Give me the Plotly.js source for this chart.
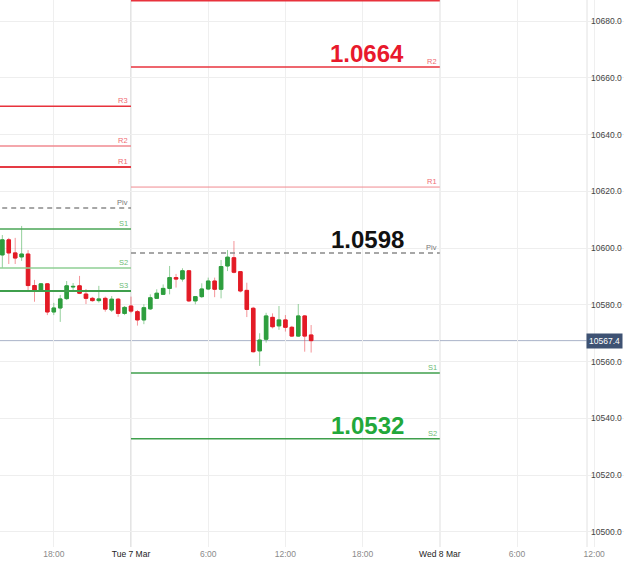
<!DOCTYPE html>
<html>
<head>
<meta charset="utf-8">
<script src="https://cdn.plot.ly/plotly-3.0.1.min.js"></script>
<style>html,body{margin:0;padding:0;background:#fff;}#chart{width:624px;height:561px;}</style>
</head>
<body>
<div id="chart"></div>
<script>
// ---- data ----
const times = [
 '2023-03-06 14:00','2023-03-06 14:30','2023-03-06 15:00','2023-03-06 15:30','2023-03-06 16:00','2023-03-06 16:30',
 '2023-03-06 17:00','2023-03-06 17:30','2023-03-06 18:00','2023-03-06 18:30','2023-03-06 19:00','2023-03-06 19:30',
 '2023-03-06 20:00','2023-03-06 20:30','2023-03-06 21:00','2023-03-06 21:30','2023-03-06 22:00','2023-03-06 22:30',
 '2023-03-06 23:00','2023-03-06 23:30','2023-03-07 00:00','2023-03-07 00:30','2023-03-07 01:00','2023-03-07 01:30',
 '2023-03-07 02:00','2023-03-07 02:30','2023-03-07 03:00','2023-03-07 03:30','2023-03-07 04:00','2023-03-07 04:30',
 '2023-03-07 05:00','2023-03-07 05:30','2023-03-07 06:00','2023-03-07 06:30','2023-03-07 07:00','2023-03-07 07:30',
 '2023-03-07 08:00','2023-03-07 08:30','2023-03-07 09:00','2023-03-07 09:30','2023-03-07 10:00','2023-03-07 10:30',
 '2023-03-07 11:00','2023-03-07 11:30','2023-03-07 12:00','2023-03-07 12:30','2023-03-07 13:00','2023-03-07 13:30',
 '2023-03-07 14:00'];
const openV  = [10597.6,10602.9,10598.3,10596.9,10597.9,10586.8,10585.0,10587.4,10577.5,10578.9,10582.2,10586.3,10586.7,10583.8,10582.3,10581.5,10582.3,10578.2,10582.0,10577.0,10579.6,10577.6,10574.7,10578.6,10582.3,10583.7,10585.8,10589.6,10589.1,10592.0,10581.4,10582.9,10585.6,10588.4,10585.5,10593.7,10596.6,10591.7,10585.1,10578.8,10563.8,10567.9,10575.6,10572.6,10574.7,10572.1,10569.0,10576.1,10569.4];
const highV  = [10604.6,10603.6,10603.6,10607.8,10599.3,10588.8,10587.7,10587.7,10580.7,10583.5,10588.4,10587.7,10590.2,10585.6,10582.8,10586.7,10582.9,10583.1,10582.4,10579.6,10582.9,10578.2,10580.2,10583.7,10585.5,10587.2,10593.7,10590.9,10592.9,10592.3,10583.1,10587.6,10589.6,10589.6,10595.8,10599.3,10602.5,10591.9,10587.8,10579.3,10570.0,10577.2,10577.0,10579.6,10576.4,10572.6,10580.3,10576.4,10572.9];
const lowV   = [10593.0,10594.4,10594.4,10595.5,10585.2,10581.1,10584.7,10576.4,10576.4,10574.0,10581.7,10585.2,10583.8,10580.3,10581.1,10580.8,10577.6,10577.5,10575.8,10576.4,10577.1,10572.7,10573.2,10578.2,10582.1,10583.5,10583.7,10586.1,10588.2,10581.0,10580.2,10582.4,10585.2,10582.7,10582.3,10591.9,10591.1,10584.4,10575.7,10563.2,10558.5,10566.7,10571.7,10571.2,10570.6,10568.7,10568.7,10563.5,10563.2];
const closeV = [10602.9,10598.3,10596.5,10597.9,10586.8,10585.0,10587.4,10577.5,10578.9,10582.1,10586.7,10586.5,10584.1,10582.3,10581.5,10582.1,10578.5,10582.0,10577.0,10579.1,10577.8,10574.7,10579.0,10582.5,10584.1,10585.8,10589.6,10589.1,10592.0,10581.4,10582.9,10585.6,10588.4,10585.5,10593.5,10596.8,10591.5,10584.9,10578.4,10563.5,10567.6,10576.1,10572.3,10574.7,10572.1,10569.0,10576.1,10569.0,10567.4];

// pivot levels per day
const dayStart = ['2023-03-06 00:00','2023-03-07 00:00'];
const dayEnd   = ['2023-03-07 00:00','2023-03-08 00:00'];
const levelNames = ['R3','R2','R1','Piv','S1','S2','S3'];
const levelsMon = [10650.0,10636.0,10628.6,10614.1,10606.7,10593.0,10584.9];
const levelsTue = [10687.1,10663.8,10621.5,10598.3,10556.0,10532.8,null];
const showLabelTue = [false,true,true,true,true,true,false];
const bigLabels = {R2:'1.0664', Piv:'1.0598', S2:'1.0532'};

const xTickVals = ['2023-03-06 18:00','2023-03-07 00:00','2023-03-07 06:00','2023-03-07 12:00','2023-03-07 18:00','2023-03-08 00:00','2023-03-08 06:00','2023-03-08 12:00'];
const xTickText = ['18:00','<span style="color:#222">Tue 7 Mar</span>','6:00','12:00','18:00','<span style="color:#222">Wed 8 Mar</span>','6:00','12:00'];
const yTickVals = [10500,10520,10540,10560,10580,10600,10620,10640,10660,10680];

// ---- styles ----
const styleMon = {
  R3:{c:'#e8323c',w:1.5}, R2:{c:'#f08a90',w:1.5}, R1:{c:'#e53a44',w:2},
  Piv:{c:'#8a8a8a',w:1.5,d:'5px,4px'},
  S1:{c:'#4aa656',w:1.5}, S2:{c:'#8fcf95',w:1.5}, S3:{c:'#3f9f4c',w:2}
};
const styleTue = {
  R3:{c:'#e8323c',w:1.5}, R2:{c:'#e8323c',w:1.5}, R1:{c:'#f08a90',w:1},
  Piv:{c:'#8a8a8a',w:1.5,d:'5px,4px'},
  S1:{c:'#3f9f4c',w:1.5}, S2:{c:'#3f9f4c',w:1.5}, S3:{c:'#3f9f4c',w:1.5}
};
const labelColor = {R:'#ef6b72', P:'#777', S:'#6dbb74'};
const bigColor = {R2:'#e8192c', Piv:'#111', S2:'#22a83a'};
const FONT = 'Liberation Sans, Arial, sans-serif';

const traces = [];
const annotations = [];
[[levelsMon, styleMon, 0],[levelsTue, styleTue, 1]].forEach(([lv, st, d]) => {
  lv.forEach((v, i) => {
    if (v === null) return;
    const n = levelNames[i];
    const s = st[n];
    traces.push({
      type:'scatter', mode:'lines', x:[dayStart[d], dayEnd[d]], y:[v, v],
      line:{color:s.c, width:s.w, dash:s.d || 'solid'}, hoverinfo:'skip', showlegend:false
    });
    if (d === 0 || showLabelTue[i]) {
      annotations.push({
        x: dayEnd[d], y: v, xref:'x', yref:'y', text:n, showarrow:false,
        xanchor:'right', yanchor:'bottom', xshift:-1, yshift:-1,
        font:{family:FONT, size:7.5, color:labelColor[n[0]]}
      });
    }
    if (d === 1 && bigLabels[n]) {
      annotations.push({
        x: '2023-03-07 21:22', y: v, xref:'x', yref:'y', text:'<b>'+bigLabels[n]+'</b>', showarrow:false,
        xanchor:'right', yanchor:'bottom', yshift:-2,
        font:{family:FONT, size:24, color:bigColor[n]}
      });
    }
  });
});

// candle wicks (light) + bodies (solid)
traces.push({
  type:'candlestick', x:times, open:openV, high:highV, low:lowV, close:closeV,
  increasing:{line:{color:'rgba(60,170,75,0.55)', width:1}, fillcolor:'rgba(60,170,75,0.55)'},
  decreasing:{line:{color:'rgba(235,60,70,0.55)', width:1}, fillcolor:'rgba(235,60,70,0.55)'},
  hoverinfo:'skip', showlegend:false
});
traces.push({
  type:'candlestick', x:times, open:openV, close:closeV,
  high:openV.map((o,i)=>Math.max(o,closeV[i])), low:openV.map((o,i)=>Math.min(o,closeV[i])),
  increasing:{line:{color:'#2e9e3e', width:1}, fillcolor:'#2e9e3e'},
  decreasing:{line:{color:'#e31b26', width:1}, fillcolor:'#e31b26'},
  hoverinfo:'skip', showlegend:false
});

const lastPrice = closeV[closeV.length-1];
const axisEdge = 587/624;

annotations.push({
  x:1, xref:'paper', y:lastPrice, yref:'y', text:lastPrice.toFixed(1), showarrow:false,
  xanchor:'right', xshift:-1, bgcolor:'#3e5273', borderpad:2,
  font:{family:FONT, size:8.5, color:'#ffffff'}
});

const shapes = [
  {type:'line', xref:'x', yref:'paper', x0:dayStart[1], x1:dayStart[1], y0:0, y1:1, line:{color:'#c9c9c9', width:1}, layer:'below'},
  {type:'line', xref:'x', yref:'paper', x0:dayEnd[1], x1:dayEnd[1], y0:0, y1:1, line:{color:'#c9c9c9', width:1}, layer:'below'},
  {type:'line', xref:'paper', yref:'y', x0:0, x1:axisEdge, y0:lastPrice, y1:lastPrice, line:{color:'#aab3c8', width:1}, layer:'between'},
  {type:'rect', xref:'paper', yref:'paper', x0:axisEdge, x1:1.01, y0:0, y1:1, fillcolor:'#ffffff', line:{width:0}, layer:'between'},
  {type:'line', xref:'paper', yref:'paper', x0:axisEdge, x1:axisEdge, y0:0, y1:1, line:{color:'#e2e2e2', width:1}, layer:'between'}
];

const layout = {
  width:624, height:561,
  margin:{l:0, r:0, t:0, b:14, pad:0},
  paper_bgcolor:'#ffffff', plot_bgcolor:'#ffffff',
  showlegend:false,
  boxgap:0.22,
  xaxis:{
    type:'date', domain:[0,1], range:['2023-03-06 13:49:07','2023-03-08 14:18:54'],
    tickmode:'array', tickvals:xTickVals, ticktext:xTickText,
    showgrid:true, gridcolor:'#efefef', gridwidth:1,
    ticks:'', zeroline:false, showline:false,
    rangeslider:{visible:false},
    tickfont:{family:FONT, size:8.5, color:'#8a8a8a'},
    fixedrange:true
  },
  yaxis:{
    side:'right', anchor:'free', position:axisEdge,
    range:[10494.7, 10687.4],
    tickmode:'array', tickvals:yTickVals, tickformat:'.1f',
    ticks:'', ticklabelstandoff:3,
    showgrid:true, gridcolor:'#eeeeee', gridwidth:1,
    zeroline:false, showline:false,
    tickfont:{family:FONT, size:8.5, color:'#444'},
    fixedrange:true
  },
  shapes:shapes,
  annotations:annotations
};

Plotly.newPlot('chart', traces, layout, {displayModeBar:false, staticPlot:true});
</script>
</body>
</html>
